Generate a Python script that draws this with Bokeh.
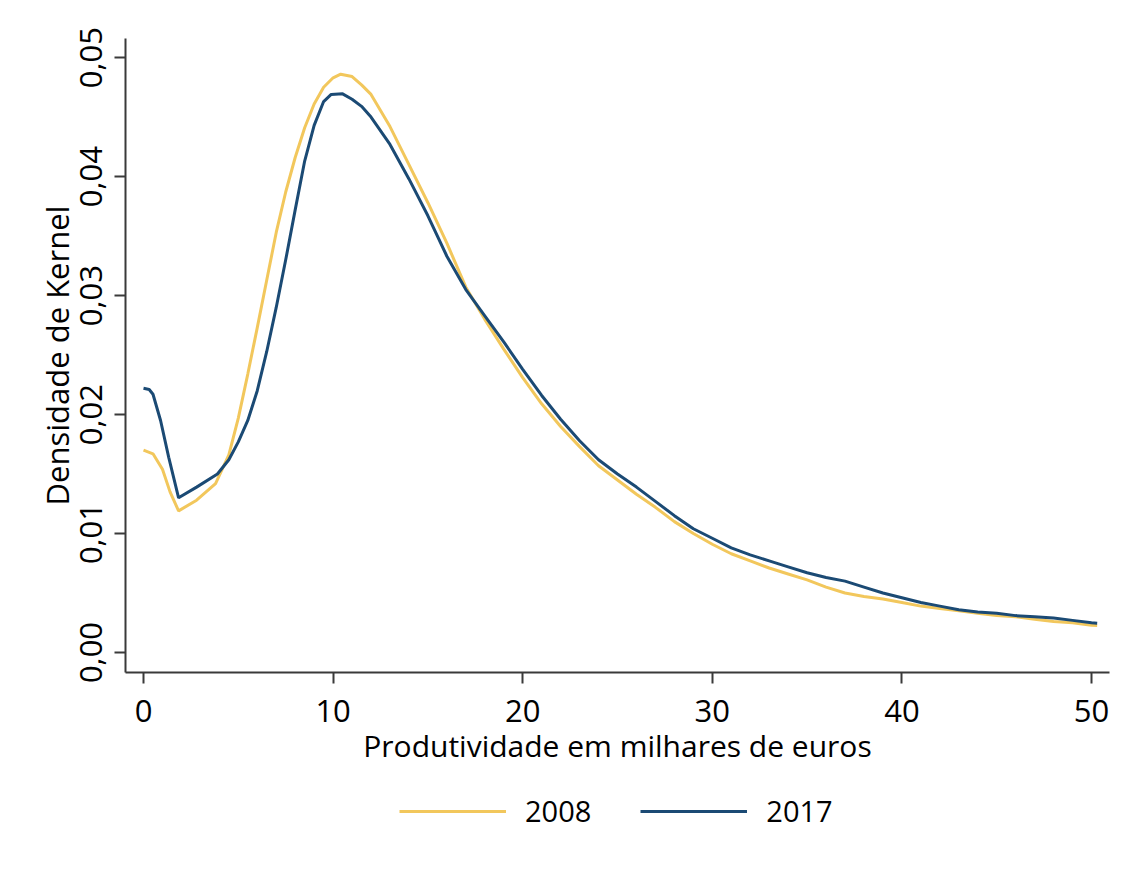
from bokeh.plotting import figure
from bokeh.models import Range1d, FixedTicker, Legend, LegendItem
from bokeh.layouts import column
from bokeh.embed import file_html
from bokeh.resources import INLINE

# ---- data ----
x_2008 = [0, 0.5, 1.0, 1.4, 1.85, 2.8, 3.8, 4.5, 5.0, 5.5, 6.0, 6.5, 7.0, 7.5, 8.0, 8.5,
          9.0, 9.5, 10.0, 10.4, 11.0, 11.5, 12.0, 13.0, 14.0, 15.0, 16.0, 17.0, 18.0, 19.0,
          20.0, 21.0, 22.0, 23.0, 24.0, 25.0, 26.0, 27.0, 28.0, 29.0, 30.0, 31.0, 32.0,
          33.0, 34.0, 35.0, 36.0, 37.0, 38.0, 39.0, 40.0, 41.0, 42.0, 43.0, 44.0, 45.0,
          46.0, 47.0, 48.0, 49.0, 50.0, 50.3]
y_2008 = [0.0170, 0.0167, 0.0154, 0.0135, 0.0119, 0.0128, 0.0142, 0.0166, 0.0197, 0.0234,
          0.0273, 0.0313, 0.0353, 0.0387, 0.0416, 0.0441, 0.0461, 0.0475, 0.0483, 0.0486,
          0.0484, 0.0477, 0.0469, 0.0442, 0.0410, 0.0378, 0.0344, 0.0307, 0.0280, 0.0255,
          0.0231, 0.0209, 0.0190, 0.0173, 0.0157, 0.0145, 0.0133, 0.0122, 0.0110, 0.0100,
          0.0091, 0.0083, 0.0077, 0.0071, 0.0066, 0.0061, 0.0055, 0.0050, 0.0047, 0.0045,
          0.0042, 0.0039, 0.0037, 0.0035, 0.0033, 0.0031, 0.0030, 0.0028, 0.0026, 0.0025,
          0.0023, 0.00227]

x_2017 = [0, 0.3, 0.5, 0.9, 1.33, 1.85, 2.8, 3.9, 4.5, 5.0, 5.5, 6.0, 6.5, 7.0, 7.5, 8.0,
          8.5, 9.0, 9.5, 9.9, 10.5, 11.0, 11.5, 12.0, 13.0, 14.0, 15.0, 16.0, 17.0, 18.0,
          19.0, 20.0, 21.0, 22.0, 23.0, 24.0, 25.0, 26.0, 27.0, 28.0, 29.0, 30.0, 31.0,
          32.0, 33.0, 34.0, 35.0, 36.0, 37.0, 38.0, 39.0, 40.0, 41.0, 42.0, 43.0, 44.0,
          45.0, 46.0, 47.0, 48.0, 49.0, 50.0, 50.3]
y_2017 = [0.0222, 0.0221, 0.0217, 0.0195, 0.0164, 0.0130, 0.0139, 0.0150, 0.0162, 0.0177,
          0.0195, 0.0220, 0.0253, 0.0290, 0.0330, 0.0372, 0.0413, 0.0443, 0.0463, 0.0469,
          0.04695, 0.0465, 0.0459, 0.0450, 0.0427, 0.0398, 0.0367, 0.0333, 0.0305, 0.0283,
          0.0261, 0.0238, 0.0216, 0.0196, 0.0178, 0.0162, 0.0150, 0.0139, 0.0127, 0.0115,
          0.0104, 0.0096, 0.0088, 0.0082, 0.0077, 0.0072, 0.0067, 0.0063, 0.0060, 0.0055,
          0.0050, 0.0046, 0.0042, 0.0039, 0.0036, 0.0034, 0.0033, 0.0031, 0.0030, 0.0029,
          0.0027, 0.0025, 0.00246]

x_ticks = [0, 10, 20, 30, 40, 50]
y_ticks = [0.0, 0.01, 0.02, 0.03, 0.04, 0.05]
y_tick_labels = ["0,00", "0,01", "0,02", "0,03", "0,04", "0,05"]
series_names = ["2008", "2017"]
series_colors = ["#F2C75C", "#1B4A74"]

FONT = "Open Sans"

p = figure(width=1118, height=790,
           x_range=Range1d(-0.95, 50.95), y_range=Range1d(-0.00168, 0.0516),
           output_backend="svg", toolbar_location=None,
           min_border_left=125, min_border_top=38, min_border_right=9,
           min_border_bottom=118)
p.outline_line_color = None
p.grid.grid_line_color = None
p.background_fill_color = "white"
p.border_fill_color = "white"

p.line(x_2008, y_2008, line_color=series_colors[0], line_width=3)
p.line(x_2017, y_2017, line_color=series_colors[1], line_width=3)

for ax in (p.xaxis[0], p.yaxis[0]):
    ax.axis_line_color = "#3a3a3a"
    ax.axis_line_width = 2
    ax.major_tick_line_color = "#3a3a3a"
    ax.major_tick_line_width = 2
    ax.major_tick_out = 11
    ax.major_tick_in = 0
    ax.minor_tick_out = 0
    ax.minor_tick_in = 0
    ax.major_label_text_font = FONT
    ax.major_label_text_font_size = "31px"
    ax.major_label_text_color = "black"
    ax.axis_label_text_font = FONT
    ax.axis_label_text_font_style = "normal"
    ax.axis_label_text_color = "black"

p.xaxis.ticker = FixedTicker(ticks=x_ticks)
p.xaxis.axis_label = "Produtividade em milhares de euros"
p.xaxis.axis_label_text_font_size = "30px"
p.xaxis.major_label_standoff = 16
p.xaxis.axis_label_standoff = 0

p.yaxis.ticker = FixedTicker(ticks=y_ticks)
p.yaxis.major_label_overrides = {t: l for t, l in zip(y_ticks, y_tick_labels)}
p.yaxis.major_label_orientation = "vertical"
p.yaxis.axis_label = "Densidade de Kernel"
p.yaxis.axis_label_text_font_size = "31px"
p.yaxis.major_label_standoff = 12
p.yaxis.axis_label_standoff = 0

# ---- legend strip below the chart (its frame is aligned with the chart's frame) ----
q = figure(width=1118, height=80, x_range=Range1d(0, 1), y_range=Range1d(0, 1),
           output_backend="svg", toolbar_location=None,
           x_axis_location=None, y_axis_location=None,
           min_border_left=0, min_border_right=0, min_border_top=0, min_border_bottom=0)
q.outline_line_color = None
q.grid.grid_line_color = None
q.border_fill_color = "white"
nan = float("nan")
l1 = q.line([nan], [nan], line_color=series_colors[0], line_width=3)
l2 = q.line([nan], [nan], line_color=series_colors[1], line_width=3)

legend = Legend(items=[LegendItem(label=series_names[0], renderers=[l1]),
                       LegendItem(label=series_names[1], renderers=[l2])],
                orientation="horizontal", location=(274, 40))
legend.label_text_font = FONT
legend.label_text_font_size = "29px"
legend.label_text_color = "black"
legend.glyph_width = 107
legend.glyph_height = 34
legend.label_standoff = 19
legend.spacing = 49
legend.border_line_color = None
legend.background_fill_alpha = 0
legend.margin = 0
legend.padding = 0
q.add_layout(legend)

open("out.html", "w").write(file_html(column(p, q), INLINE))
